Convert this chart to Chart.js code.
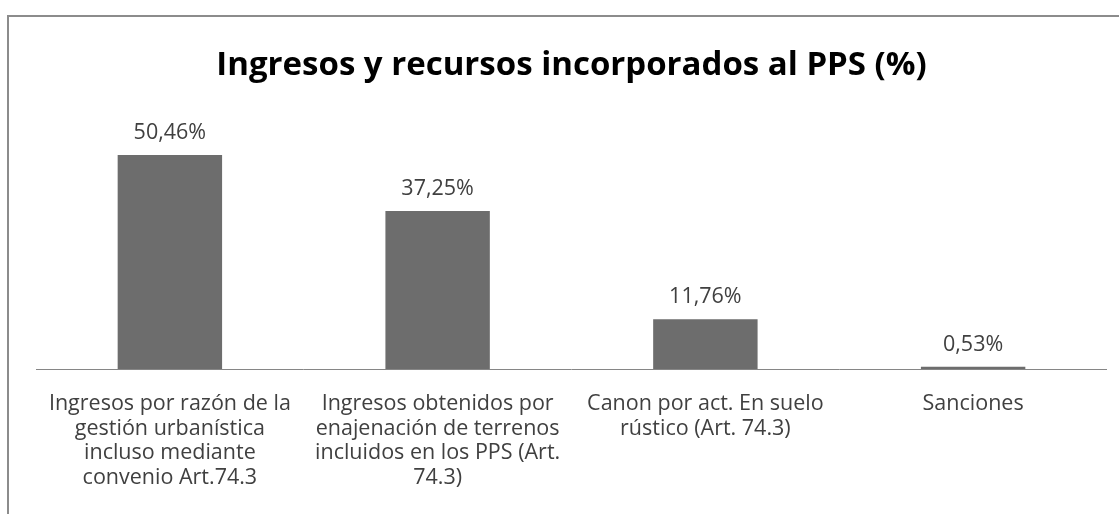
<!DOCTYPE html>
<html>
<head>
<meta charset="utf-8">
<script src="https://cdn.jsdelivr.net/npm/chart.js@4"></script>
<style>
  html, body { margin: 0; padding: 0; background: #fff; overflow: hidden; }
  #wrap { position: relative; width: 1119px; height: 514px; }
  #frame { position: absolute; left: 7px; top: 15px; width: 1200px; height: 600px;
           border: 2px solid #8c8c8c; box-sizing: border-box; }
  #chart { position: absolute; left: 0; top: 0; }
</style>
</head>
<body>
<div id="wrap">
  <div id="frame"></div>
  <canvas id="chart" width="1119" height="514"></canvas>
</div>
<script>
// categories (already wrapped the way the original shows them)
const categories = [
  ['Ingresos por razón de la', 'gestión urbanística', 'incluso mediante', 'convenio Art.74.3'],
  ['Ingresos obtenidos por', 'enajenación de terrenos', 'incluidos en los PPS (Art.', '74.3)'],
  ['Canon por act. En suelo', 'rústico (Art. 74.3)'],
  ['Sanciones']
];
const values = [50.46, 37.25, 11.76, 0.53];

const fontFamily = '"Open Sans", Lato, sans-serif';

// value labels on top of bars, spanish decimal comma
const valueLabels = {
  id: 'valueLabels',
  afterDatasetsDraw(chart) {
    const ctx = chart.ctx;
    const meta = chart.getDatasetMeta(0);
    ctx.save();
    ctx.font = '21.5px ' + fontFamily;
    ctx.fillStyle = '#404040';
    ctx.textAlign = 'center';
    ctx.textBaseline = 'middle';
    meta.data.forEach((bar, i) => {
      const txt = values[i].toFixed(2).replace('.', ',') + '%';
      ctx.fillText(txt, bar.x, bar.y - 22);
    });
    ctx.restore();
  }
};

// horizontal axis line across the plot area only
const axisLine = {
  id: 'axisLine',
  afterDatasetsDraw(chart) {
    const { ctx, chartArea } = chart;
    ctx.save();
    ctx.strokeStyle = '#868686';
    ctx.lineWidth = 1;
    ctx.beginPath();
    ctx.moveTo(chartArea.left, Math.round(chartArea.bottom) + 0.5);
    ctx.lineTo(chartArea.right, Math.round(chartArea.bottom) + 0.5);
    ctx.stroke();
    ctx.restore();
  }
};

const data = {
  labels: categories,
  datasets: [{
    data: values,
    backgroundColor: '#6d6d6d',
    borderWidth: 0,
    categoryPercentage: 1,
    barPercentage: 0.39
  }]
};

const config = {
  type: 'bar',
  data: data,
  options: {
    responsive: false,
    animation: false,
    layout: { padding: { left: 36, right: 12, top: 0, bottom: 0 } },
    plugins: {
      legend: { display: false },
      tooltip: { enabled: false },
      title: {
        display: true,
        text: 'Ingresos y recursos incorporados al PPS (%)',
        color: '#000',
        font: { family: fontFamily, size: 33, weight: 'bold', lineHeight: 1.2 },
        padding: { top: 46, bottom: 29 }
      }
    },
    scales: {
      x: {
        grid: { display: false, drawTicks: false },
        border: { display: false },
        ticks: {
          color: '#404040',
          font: { family: fontFamily, size: 21.5, lineHeight: 1.14 },
          padding: 23,
          maxRotation: 0,
          autoSkip: false
        },
        afterFit(scale) { scale.height = 145; }
      },
      y: {
        display: false,
        min: 0,
        max: 60
      }
    }
  },
  plugins: [axisLine, valueLabels]
};

const barChart = new Chart(document.getElementById('chart'), config);
</script>
</body>
</html>
